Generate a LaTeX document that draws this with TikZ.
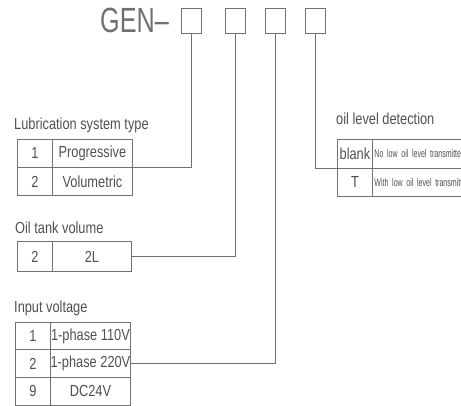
\documentclass[tikz,border=0pt]{standalone}
\usepackage{fontspec}
\setmainfont[FakeStretch=0.8]{Liberation Sans}
\newfontfamily\genfont[FakeStretch=0.72]{Liberation Sans}
\newfontfamily\smallfont[FakeStretch=0.64]{Liberation Sans}
\definecolor{ln}{HTML}{707070}
\definecolor{tx}{HTML}{505050}
\begin{document}
\begin{tikzpicture}[x=1pt,y=-1pt,
  conn/.style={draw=ln, line width=0.8pt},
  cell/.style={draw=ln, line width=0.9pt, inner sep=0pt, text=tx, anchor=north west,
    font=\fontsize{16}{16}\selectfont},
  smallcell/.style={cell, font=\smallfont\fontsize{11}{11}\selectfont, align=left,
    text width=104pt, inner xsep=2pt, minimum width=108pt},
  title/.style={anchor=base west, inner sep=0pt, text=tx, font=\fontsize{16}{16}\selectfont},
  genbox/.style={draw=ln, line width=0.9pt, minimum width=20pt, minimum height=25pt, inner sep=0pt}
]
\useasboundingbox (0,0) rectangle (461,406);

% header
\node[anchor=base west, inner sep=0pt, text=ln, font=\genfont\fontsize{35}{35}\selectfont] (gen) at (100,33) {GEN–};
\node[genbox] (g1) at (191,20.5) {};
\node[genbox] (g2) at (235,20.5) {};
\node[genbox] (g3) at (275,20.5) {};
\node[genbox] (g4) at (315,20.5) {};

% Lubrication system type
\node[title] (tlub) at (14,130) {Lubrication system type};
\node[cell, minimum width=35pt, minimum height=28pt] (l1a) at (17,139) {1};
\node[cell, minimum width=80pt, minimum height=28pt] (l1b) at (52,139) {Progressive};
\node[cell, minimum width=35pt, minimum height=28pt] (l2a) at (17,167) {2};
\node[cell, minimum width=80pt, minimum height=28pt] (l2b) at (52,167) {Volumetric};

% Oil tank volume
\node[title] (ttank) at (15,234) {Oil tank volume};
\node[cell, minimum width=35pt, minimum height=30pt] (t1a) at (17,241) {2};
\node[cell, minimum width=79pt, minimum height=30pt] (t1b) at (52,241) {2L};

% Input voltage
\node[title] (tvolt) at (14,313) {Input voltage};
\node[cell, minimum width=35pt, minimum height=27.5pt] (v1a) at (15,322) {1};
\node[cell, minimum width=80pt, minimum height=27.5pt] (v1b) at (50,322) {1-phase 110V};
\node[cell, minimum width=35pt, minimum height=27.5pt] (v2a) at (15,349.5) {2};
\node[cell, minimum width=80pt, minimum height=27.5pt] (v2b) at (50,349.5) {1-phase 220V};
\node[cell, minimum width=35pt, minimum height=27.5pt] (v3a) at (15,377) {9};
\node[cell, minimum width=80pt, minimum height=27.5pt] (v3b) at (50,377) {DC24V};

% oil level detection
\node[title] (toil) at (336,125) {oil level detection};
\node[cell, minimum width=35pt, minimum height=29pt] (o1a) at (337,139) {blank};
\node[smallcell, minimum height=29pt] (o1b) at (372,139) {No low oil level transmitter};
\node[cell, minimum width=35pt, minimum height=28pt] (o2a) at (337,168) {T};
\node[smallcell, minimum height=28pt] (o2b) at (372,168) {With low oil level transmitter};

% connectors
\draw[conn] (g1.south) |- (l2b.north east);
\draw[conn] (g2.south) |- (t1b.east);
\draw[conn] (g3.south) |- (v2b.east);
\draw[conn] (g4.south) |- (o2a.north west);
\end{tikzpicture}
\end{document}
